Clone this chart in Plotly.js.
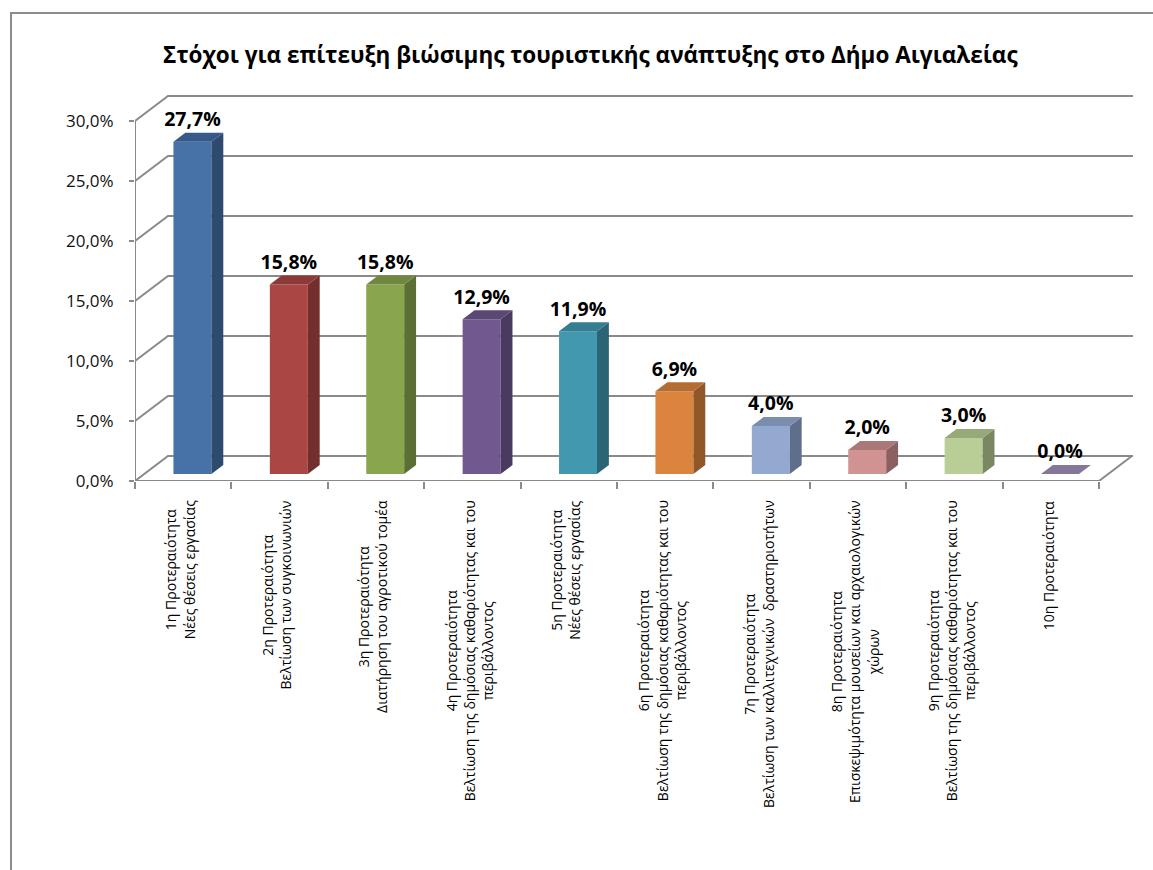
<!DOCTYPE html>
<html>
<head>
<meta charset="utf-8">
<script src="https://cdn.plot.ly/plotly-3.0.1.min.js"></script>
<style>
  body { margin: 0; background: #fff; }
  #chart { position: absolute; left: 0; top: 0; width: 1153px; height: 870px; }
  #frame { position: absolute; left: 10px; top: 12px; width: 1143px; height: 858px;
           border-left: 2px solid #8c8c8c; border-top: 2px solid #8c8c8c; pointer-events: none; }
</style>
</head>
<body>
<div id="chart"></div>
<div id="frame"></div>
<script>
const categories = [
  '1η Προτεραιότητα<br>Νέες θέσεις εργασίας',
  '2η Προτεραιότητα<br>Βελτίωση των συγκοινωνιών',
  '3η Προτεραιότητα<br>Διατήρηση του αγροτικού τομέα',
  '4η Προτεραιότητα<br>Βελτίωση της δημόσιας καθαριότητας και του<br>περιβάλλοντος',
  '5η Προτεραιότητα<br>Νέες θέσεις εργασίας',
  '6η Προτεραιότητα<br>Βελτίωση της δημόσιας καθαριότητας και του<br>περιβάλλοντος',
  '7η Προτεραιότητα<br>Βελτίωση των καλλιτεχνικών  δραστηριοτήτων',
  '8η Προτεραιότητα<br>Επισκεψιμότητα μουσείων και αρχαιολογικών<br>χώρων',
  '9η Προτεραιότητα<br>Βελτίωση της δημόσιας καθαριότητας και του<br>περιβάλλοντος',
  '10η Προτεραιότητα'
];
const values = [27.7, 15.8, 15.8, 12.9, 11.9, 6.9, 4.0, 2.0, 3.0, 0.0];
const frontColors = ['#4672a8', '#aa4643', '#89a54e', '#71588f', '#4198af',
                     '#db843d', '#93a9cf', '#d19392', '#b9cd96', '#a99bbd'];
const sideColors  = ['#2e4a6e', '#722f2d', '#5b6e33', '#4a3a5f', '#2b6474',
                     '#915728', '#5f6f8b', '#8a6160', '#7a8763', '#6f6487'];
const topColors   = ['#36598a', '#8b3a37', '#70873f', '#5c4875', '#357d90',
                     '#b36c32', '#7a8dae', '#ab7877', '#97a87a', '#857799'];
const yTicks = [0, 5, 10, 15, 20, 25, 30];

// fake 3D: depth offset of the back wall, in axis units
const DX = 0.342, DY = 2.083;
const F0 = 0.28, F1 = 0.64, HALF = 0.197;
const XMAX = 9.853, YMAX = 32.17;
const fmt = v => v.toFixed(1).replace('.', ',') + '%';

const idx = values.map((_, i) => i);
const traces = [];

traces.push({
  type: 'bar',
  x: idx.map(i => i + F0 * DX),
  y: values,
  base: values.map(() => F0 * DY),
  width: 2 * HALF,
  marker: { color: frontColors, line: { width: 0 } },
  hoverinfo: 'skip'
});

const ddx = (F1 - F0) * DX, ddy = (F1 - F0) * DY, b0 = F0 * DY;
values.forEach((v, i) => {
  const xl = i + F0 * DX - HALF, xr = i + F0 * DX + HALF;
  traces.push({
    type: 'scatter', mode: 'lines', fill: 'toself', fillcolor: sideColors[i],
    line: { width: 0 }, hoverinfo: 'skip',
    x: [xr, xr, xr + ddx, xr + ddx, xr],
    y: [b0, b0 + v, b0 + v + ddy, b0 + ddy, b0]
  });
  traces.push({
    type: 'scatter', mode: 'lines', fill: 'toself', fillcolor: topColors[i],
    line: { width: 0 }, hoverinfo: 'skip',
    x: [xl, xr, xr + ddx, xl + ddx, xl],
    y: [b0 + v, b0 + v, b0 + v + ddy, b0 + v + ddy, b0 + v]
  });
});

traces.push({
  type: 'scatter', mode: 'text',
  x: idx.map(i => i + F0 * DX),
  y: values.map(v => v + F1 * DY + 0.15),
  text: values.map(fmt),
  textposition: 'top center',
  textfont: { family: 'Open Sans, sans-serif', size: 19.5, color: '#000', weight: 'bold' },
  hoverinfo: 'skip'
});

const gridColor = '#8a8a8a';
const shapes = yTicks.map(t => ({
  type: 'path', layer: 'below',
  path: `M -0.5 ${t} L ${-0.5 + DX} ${t + DY} L ${XMAX} ${t + DY}`,
  line: { color: gridColor, width: 2 }
}));
shapes.push({
  type: 'path', layer: 'below',
  path: `M -0.5 0 L 9.5 0 L ${9.5 + DX} ${DY}`,
  line: { color: gridColor, width: 2 }
});
shapes.push({
  type: 'line', layer: 'below', x0: -0.5, x1: -0.5, y0: 0, y1: 30,
  line: { color: gridColor, width: 2 }
});

const annotations = categories.map((c, i) => ({
  xref: 'x', yref: 'paper', x: i - 0.03, y: -0.045,
  xanchor: 'center', yanchor: 'top',
  text: c, showarrow: false, textangle: -90, align: 'center',
  font: { family: 'Open Sans, sans-serif', size: 14, color: '#000' }
}));

const layout = {
  width: 1153, height: 870,
  margin: { l: 135, r: 20, t: 95, b: 389 },
  paper_bgcolor: '#fff', plot_bgcolor: 'rgba(0,0,0,0)',
  showlegend: false,
  font: { family: 'Open Sans, sans-serif', color: '#000' },
  title: {
    text: '<b>Στόχοι για επίτευξη βιώσιμης τουριστικής ανάπτυξης στο Δήμο Αιγιαλείας</b>',
    xref: 'container', yref: 'container', x: 0.512, y: 0.937,
    xanchor: 'center', yanchor: 'middle',
    font: { family: 'Open Sans, sans-serif', size: 22.5, color: '#000' }
  },
  xaxis: {
    range: [-0.5, XMAX], tickvals: [-0.5, 0.5, 1.5, 2.5, 3.5, 4.5, 5.5, 6.5, 7.5, 8.5, 9.5],
    showticklabels: false, ticks: 'outside', ticklen: 7, tickwidth: 2, tickcolor: gridColor,
    showgrid: false, zeroline: false, showline: false, fixedrange: true
  },
  yaxis: {
    range: [0, YMAX], tickmode: 'array', tickvals: yTicks, ticktext: yTicks.map(fmt),
    ticks: 'outside', ticklen: 5, tickwidth: 2, tickcolor: gridColor,
    ticklabelstandoff: 12,
    tickfont: { family: 'Open Sans, sans-serif', size: 17, color: '#111' },
    showgrid: false, zeroline: false, showline: false, fixedrange: true
  },
  shapes: shapes,
  annotations: annotations
};

Plotly.newPlot('chart', traces, layout, { displayModeBar: false, staticPlot: true });
</script>
</body>
</html>
